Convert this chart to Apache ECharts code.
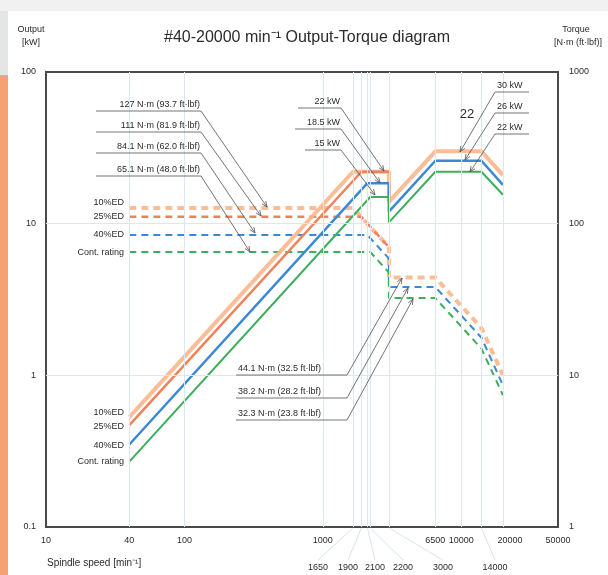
<!DOCTYPE html>
<html>
<head>
<meta charset="utf-8">
<title>Output-Torque diagram</title>
<script src="https://cdn.jsdelivr.net/npm/echarts@6/dist/echarts.min.js"></script>
<style>
  html, body { margin: 0; padding: 0; background: #fff; }
  #chart-1 { width: 608px; height: 575px; }
</style>
</head>
<body>
<div id="chart-1"></div>
<script>
// spindle speed [min-1] for each rating
var speed10 = [40, 1650, 3000, 3000, 6500, 14000, 20000];
var speed25 = [40, 1900, 3000];
var speed40 = [40, 2100, 3000, 3000, 6500, 14000, 20000];
var speedCont = [40, 2200, 3000, 3000, 6500, 14000, 20000];

// output [kW]
var output10 = [0.53, 22, 22, 13.9, 30, 30, 20.9];
var output25 = [0.47, 22, 22];
var output40 = [0.35, 18.5, 18.5, 12.0, 26, 26, 18.0];
var outputCont = [0.27, 15, 15, 10.2, 22, 22, 15.5];

// torque [N·m]
var torque10 = [127, 127, 70, 44.1, 44.1, 20.5, 10.0];
var torque25 = [111, 111, 70];
var torque40 = [84.1, 84.1, 58.9, 38.2, 38.2, 17.7, 8.6];
var torqueCont = [65.1, 65.1, 47.7, 32.3, 32.3, 15.0, 7.4];

// axis ticks
var xTicksTop = [10, 40, 100, 1000, 6500, 10000, 20000, 50000];
var xTicksBottom = [1650, 1900, 2100, 2200, 3000, 14000];
var xGrid = [40, 100, 1000, 1650, 1900, 2100, 2200, 3000, 6500, 10000, 14000, 20000];
var yGrid = [1, 10];

var ratings = ['10%ED', '25%ED', '40%ED', 'Cont. rating'];
var lowTorqueNotes = ['127 N·m (93.7 ft·lbf)', '111 N·m (81.9 ft·lbf)', '84.1 N·m (62.0 ft·lbf)', '65.1 N·m (48.0 ft·lbf)'];
var highTorqueNotes = ['44.1 N·m (32.5 ft·lbf)', '38.2 N·m (28.2 ft·lbf)', '32.3 N·m (23.8 ft·lbf)'];
var lowPowerNotes = ['22 kW', '18.5 kW', '15 kW'];
var highPowerNotes = ['30 kW', '26 kW', '22 kW'];

var FONT = '"Liberation Sans", Arial, sans-serif';
var TXT = '#2b2b2b';

function pairs(xs, ys) {
  return xs.map(function (x, i) { return [x, ys[i]]; });
}

function lineSeries(xs, ys, axis, color, width, dashed, opacity) {
  return {
    type: 'line',
    yAxisIndex: axis,
    data: pairs(xs, ys),
    symbol: 'none',
    silent: true,
    animation: false,
    lineStyle: {
      color: color,
      width: width,
      type: dashed ? [7, 5] : 'solid',
      opacity: opacity || 1
    }
  };
}

function text(str, x, y, align, size, extra) {
  var st = {
    text: str, x: x, y: y,
    fill: TXT,
    font: (size || 9) + 'px ' + FONT,
    textAlign: align || 'left', align: align || 'left',
    textVerticalAlign: 'middle', verticalAlign: 'middle'
  };
  if (extra) { for (var k in extra) st[k] = extra[k]; }
  return { type: 'text', silent: true, z: 100, style: st };
}

function seg(x1, y1, x2, y2, color, w) {
  return {
    type: 'line', silent: true, z: 100,
    shape: { x1: x1, y1: y1, x2: x2, y2: y2 },
    style: { stroke: color || '#505050', lineWidth: w || 0.8 }
  };
}

function arrow(x1, y1, x2, y2) {
  var a = Math.atan2(y2 - y1, x2 - x1);
  var h = 6, w = 0.4;
  return [seg(x1, y1, x2, y2), {
    type: 'polyline', silent: true, z: 100,
    shape: { points: [
      [x2 - h * Math.cos(a - w), y2 - h * Math.sin(a - w)],
      [x2, y2],
      [x2 - h * Math.cos(a + w), y2 - h * Math.sin(a + w)]
    ] },
    style: { stroke: '#505050', lineWidth: 0.8, fill: null }
  }];
}

function initChart1() {
  var dom1 = document.getElementById('chart-1');
  var myChart1 = echarts.init(dom1, null, { renderer: 'canvas' });

  var gridMarks = xGrid.map(function (v) { return { xAxis: v }; })
    .concat(yGrid.map(function (v) { return { yAxis: v }; }));

  var option = {
    animation: false,
    backgroundColor: '#fff',
    textStyle: { fontFamily: FONT },
    grid: {
      left: 46, top: 72, width: 512, height: 455,
      show: true, borderColor: '#4a4a4a', borderWidth: 2,
      backgroundColor: 'transparent'
    },
    xAxis: {
      type: 'log', logBase: 10, min: 10, max: 50000,
      axisLine: { show: false }, axisTick: { show: false },
      axisLabel: { show: false }, splitLine: { show: false }
    },
    yAxis: [{
      type: 'log', logBase: 10, min: 0.1, max: 100, position: 'left',
      axisLine: { show: false }, axisTick: { show: false },
      splitLine: { show: false },
      axisLabel: { color: TXT, fontSize: 9, margin: 10, fontFamily: FONT,
        formatter: function (v) { return String(v); } }
    }, {
      type: 'log', logBase: 10, min: 1, max: 1000, position: 'right',
      axisLine: { show: false }, axisTick: { show: false },
      splitLine: { show: false },
      axisLabel: { color: TXT, fontSize: 9, margin: 11, fontFamily: FONT,
        formatter: function (v) { return String(v); } }
    }],
    series: [{
      type: 'line', data: [], silent: true,
      markLine: {
        symbol: 'none', silent: true, animation: false,
        label: { show: false },
        lineStyle: { color: '#dce7f2', width: 1, type: 'solid' },
        data: gridMarks
      }
    },
      lineSeries(speed10, torque10, 1, '#f8b68c', 4, true, 0.9),
      lineSeries(speed25, torque25, 1, '#f08158', 2.5, true),
      lineSeries(speed40, torque40, 1, '#3a88d6', 2, true),
      lineSeries(speedCont, torqueCont, 1, '#3cae5c', 2, true),
      lineSeries(speed10, output10, 0, '#f8b68c', 4, false, 0.9),
      lineSeries(speed25, output25, 0, '#f08158', 2.5, false),
      lineSeries(speed40, output40, 0, '#3a88d6', 2.5, false),
      lineSeries(speedCont, outputCont, 0, '#3cae5c', 2, false)
    ]
  };
  myChart1.setOption(option, true);

  var g = [];
  // page decoration
  g.push({ type: 'rect', silent: true, z: -1, shape: { x: 0, y: 0, width: 608, height: 11 }, style: { fill: '#f1f1f1' } });
  g.push({ type: 'rect', silent: true, z: -1, shape: { x: 0, y: 11, width: 8, height: 64 }, style: { fill: '#e4e6e6' } });
  g.push({ type: 'rect', silent: true, z: -1, shape: { x: 0, y: 75, width: 8, height: 500 }, style: { fill: '#f5a173' } });

  // titles
  g.push(text('#40-20000 min⁻¹ Output-Torque diagram', 307, 38, 'center', 16));
  g.push(text('Output', 31, 30, 'center', 9));
  g.push(text('[kW]', 31, 43, 'center', 9));
  g.push(text('Torque', 576, 30, 'center', 9));
  g.push(text('[N·m (ft·lbf)]', 578, 43, 'center', 9));
  g.push(text('Spindle speed [min⁻¹]', 47, 563, 'left', 10));

  // x tick labels
  var bottom = 527;
  xTicksTop.forEach(function (v) {
    var px = myChart1.convertToPixel({ xAxisIndex: 0 }, v);
    if (v === 20000) px += 7;
    g.push(text(String(v), px, 541, 'center', 9));
  });
  var bottomLabelX = [318, 348, 375, 403, 443, 495];
  xTicksBottom.forEach(function (v, i) {
    var px = myChart1.convertToPixel({ xAxisIndex: 0 }, v);
    g.push(seg(px, bottom + 1, bottomLabelX[i], 560, '#d8e4ef', 1));
    g.push(text(String(v), bottomLabelX[i], 568, 'center', 9));
  });

  // rating labels
  var leftY = [203, 217, 235, 253];
  var lowY = [413, 427, 446, 462];
  ratings.forEach(function (r, i) {
    g.push(text(r, 124, leftY[i], 'right', 9));
    g.push(text(r, 124, lowY[i], 'right', 9));
  });

  // torque notes, low speed
  var ltY = [105, 126, 147, 170];
  var ltTip = [[267, 207], [261, 216], [255, 233], [250, 252]];
  lowTorqueNotes.forEach(function (s, i) {
    g.push(text(s, 200, ltY[i], 'right', 9));
    g.push(seg(96, ltY[i] + 6, 201, ltY[i] + 6));
    g = g.concat(arrow(201, ltY[i] + 6, ltTip[i][0], ltTip[i][1]));
  });

  // power notes, low speed
  var lpY = [102, 123, 144];
  var lpStart = [298, 295, 305];
  var lpTip = [[384, 171], [380, 183], [375, 195]];
  lowPowerNotes.forEach(function (s, i) {
    g.push(text(s, 340, lpY[i], 'right', 9));
    g.push(seg(lpStart[i], lpY[i] + 6, 341, lpY[i] + 6));
    g = g.concat(arrow(341, lpY[i] + 6, lpTip[i][0], lpTip[i][1]));
  });

  // power notes, high speed
  var hpY = [86, 107, 128];
  var hpTip = [[460, 152], [465, 160], [470, 172]];
  highPowerNotes.forEach(function (s, i) {
    g.push(text(s, 497, hpY[i], 'left', 9));
    g.push(seg(495, hpY[i] + 6, 529, hpY[i] + 6));
    g = g.concat(arrow(495, hpY[i] + 6, hpTip[i][0], hpTip[i][1]));
  });
  g.push(text('22', 467, 114, 'center', 13));

  // torque notes, high speed
  var htY = [369, 392, 414];
  var htTip = [[402, 278], [408, 288], [413, 299]];
  highTorqueNotes.forEach(function (s, i) {
    g.push(text(s, 238, htY[i], 'left', 9));
    g.push(seg(236, htY[i] + 6, 347, htY[i] + 6));
    g = g.concat(arrow(347, htY[i] + 6, htTip[i][0], htTip[i][1]));
  });

  myChart1.setOption({ graphic: { elements: g } });
  window.onresize = myChart1.resize;
}

initChart1();
</script>
</body>
</html>
